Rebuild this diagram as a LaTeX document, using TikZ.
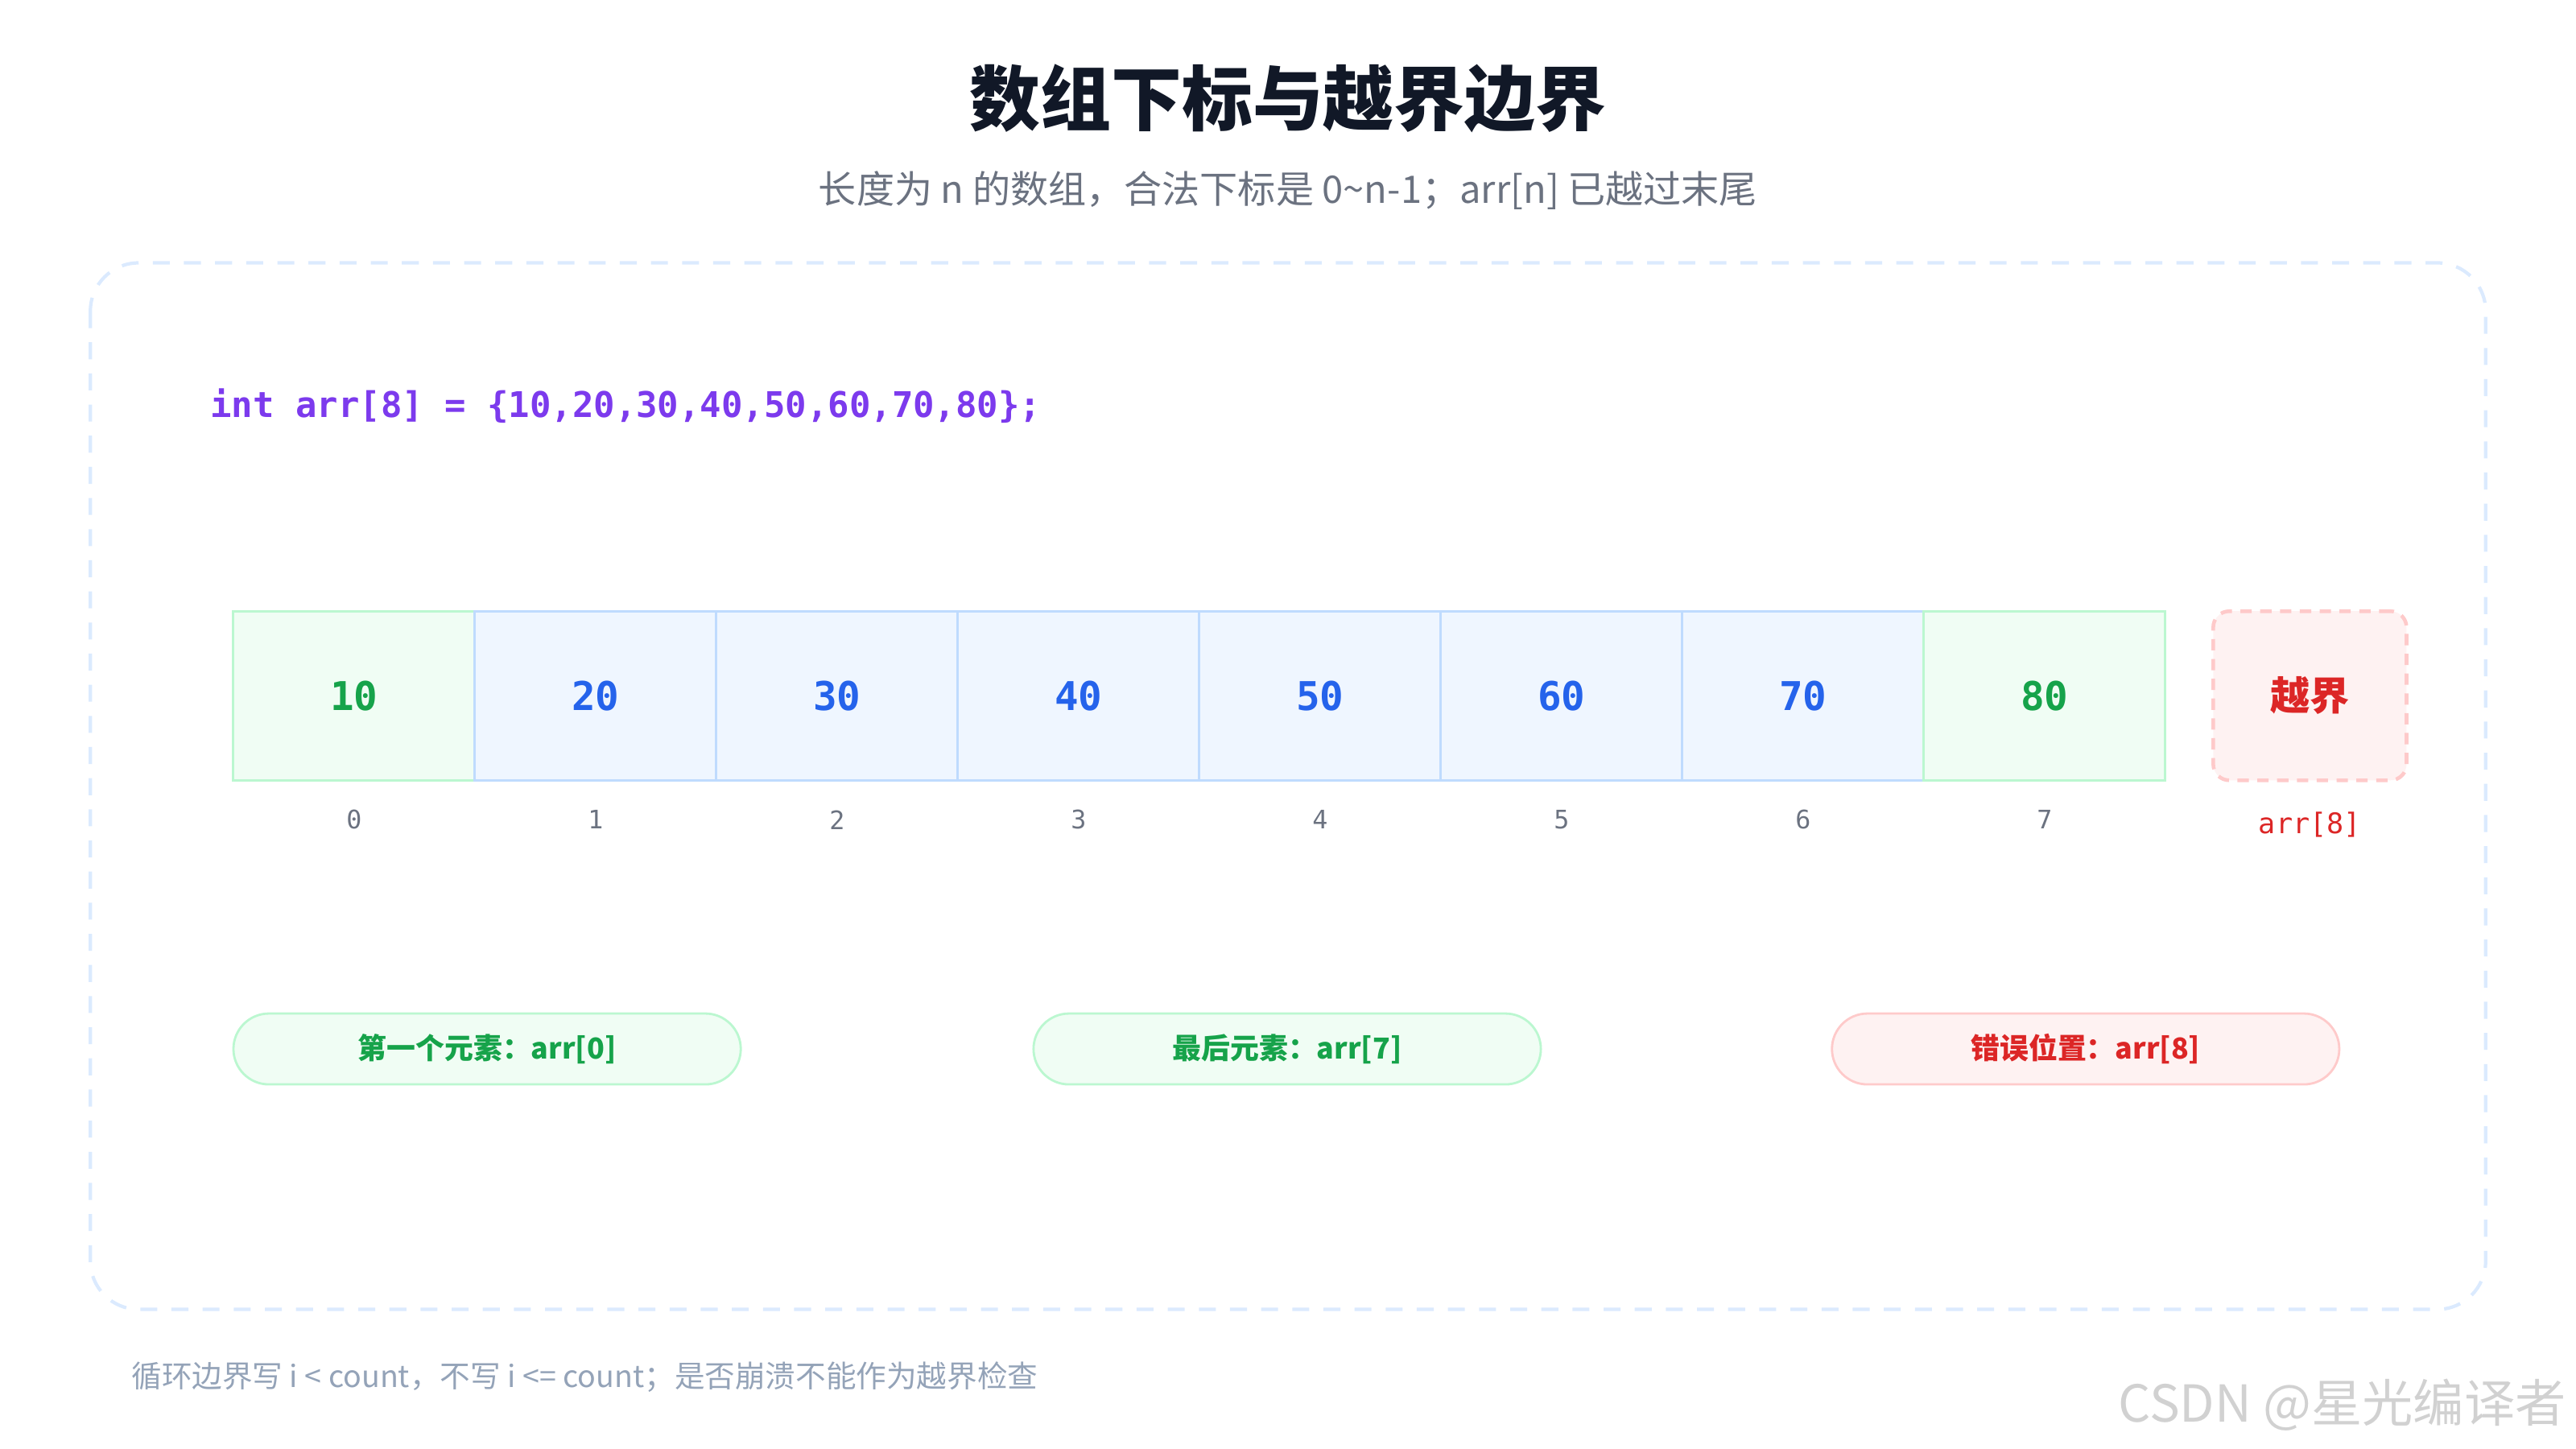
\documentclass[tikz,border=0pt]{standalone}
\usepackage{fontspec}
\setmainfont{Noto Sans CJK SC}
\setmonofont{DejaVu Sans Mono}
\usepackage{xcolor}
\usetikzlibrary{positioning}
\definecolor{titlec}{HTML}{111827}
\definecolor{subc}{HTML}{6B7280}
\definecolor{framec}{HTML}{DBEAFE}
\definecolor{codec}{HTML}{7C3AED}
\definecolor{bluefill}{HTML}{EFF6FF}
\definecolor{blueline}{HTML}{BFDBFE}
\definecolor{bluetext}{HTML}{2563EB}
\definecolor{greenfill}{HTML}{F0FDF4}
\definecolor{greenline}{HTML}{BBF7D0}
\definecolor{greentext}{HTML}{16A34A}
\definecolor{redfill}{HTML}{FEF2F2}
\definecolor{redline}{HTML}{FECACA}
\definecolor{redtext}{HTML}{DC2626}
\definecolor{notec}{HTML}{94A3B8}
\begin{document}
\begin{tikzpicture}[x=0.0204cm, y=-0.0204cm,
    cell/.style={rectangle, draw=blueline, fill=bluefill, line width=0.8pt, minimum width=3cm, minimum height=2.1cm, inner sep=0pt, font=\ttfamily\bfseries\fontsize{14}{14}\selectfont, text=bluetext},
    edge/.style={cell, draw=greenline, fill=greenfill, text=greentext},
    idx/.style={font=\ttfamily\fontsize{9}{9}\selectfont, text=subc},
    pill/.style={rectangle, rounded corners=0.44cm, draw=greenline, fill=greenfill, line width=0.8pt, minimum width=6.3cm, minimum height=0.88cm, font=\bfseries\fontsize{10.2}{10.2}\selectfont, text=greentext},
    badpill/.style={pill, draw=redline, fill=redfill, text=redtext}
]
\useasboundingbox (0,0) rectangle (1568,882);

\node[font=\bfseries\fontsize{25}{25}\selectfont, text=titlec] (title) at (784,60) {数组下标与越界边界};
\node[font=\fontsize{13.4}{13.4}\selectfont, text=subc] (sub) at (784,116) {长度为 n 的数组，合法下标是 0\textasciitilde n-1；arr[n] 已越过末尾};

\draw[framec, line width=1.2pt, dash pattern=on 6pt off 5pt, rounded corners=0.6cm] (55,160) rectangle (1513,797);

\node[anchor=west, font=\ttfamily\bfseries\fontsize{12.5}{12.5}\selectfont, text=codec] (code) at (122,247) {int arr[8] = \{10,20,30,40,50,60,70,80\};};

% array cells
\foreach \v [count=\i from 0] in {10,20,30,40,50,60,70,80} {
  \ifnum\i=0 \def\st{edge}\else\ifnum\i=7 \def\st{edge}\else\def\st{cell}\fi\fi
  \node[\st] (c\i) at (215.5+147*\i,423.5) {\v};
  \node[idx] (i\i) at (215.5+147*\i,499) {\i};
}

\node[cell, draw=redline, fill=redfill, text=redtext, line width=1.3pt, dash pattern=on 4pt off 3pt, rounded corners=0.2cm, minimum width=2.4cm, font=\bfseries\fontsize{14}{14}\selectfont] (out) at (1406,423.5) {越界};
\node[idx, text=redtext, font=\ttfamily\fontsize{10}{10}\selectfont] (i8) at (1406,502) {arr[8]};

\node[pill] (first) at (296.5,638.5) {第一个元素：arr[0]};
\node[pill] (last) at (783.5,638.5) {最后元素：arr[7]};
\node[badpill] (bad) at (1269.5,638.5) {错误位置：arr[8]};

\node[anchor=west, font=\fontsize{10.7}{10.7}\selectfont, text=notec] (note) at (74,838) {循环边界写 i < count，不写 i <= count；是否崩溃不能作为越界检查};
\node[anchor=east, font=\fontsize{18}{18}\selectfont, text=black!18] (mark) at (1568,855) {CSDN @星光编译者};
\end{tikzpicture}
\end{document}
